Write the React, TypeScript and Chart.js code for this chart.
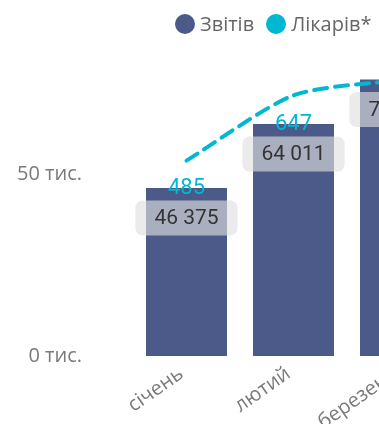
import React, { useEffect, useRef } from "react";
import { Chart, registerables } from "chart.js";

Chart.register(...registerables);

const categories = ["січень", "лютий", "березень"];
const reports = [46375, 64011, 76250];
const doctors = [485, 647, 686];
const yTicks = [0, 50000];
const seriesNames = ["Звітів", "Лікарів*"];

const BAR_COLOR = "#4B5A88";
const LINE_COLOR = "#00B8D2";
const AXIS_COLOR = "#7a7a7a";

const fmt = (v: number) => String(v).replace(/\B(?=(\d{3})+(?!\d))/g, " ");

const labelPlugin = {
  id: "valueLabels",
  afterDatasetsDraw(chart: any) {
    const ctx = chart.ctx;
    const meta = chart.getDatasetMeta(1);
    ctx.save();
    meta.data.forEach((bar: any, i: number) => {
      const x = bar.x;
      const y = bar.y;
      ctx.font = "21px Roboto";
      const text = fmt(reports[i]);
      const tw = ctx.measureText(text).width;
      const w = tw + 38;
      const h = 35;
      const cy = y + 30;
      ctx.fillStyle = "rgba(224,224,224,0.64)";
      ctx.beginPath();
      ctx.roundRect(x - w / 2, cy - h / 2, w, h, 7);
      ctx.fill();
      ctx.fillStyle = "#333333";
      ctx.textAlign = "center";
      ctx.textBaseline = "middle";
      ctx.fillText(text, x, cy + 1);
      ctx.font = "22px Roboto";
      ctx.fillStyle = LINE_COLOR;
      ctx.fillText(String(doctors[i]), x, y + 1);
    });
    ctx.restore();
  },
};

function ChartCanvas() {
  const ref = useRef<HTMLCanvasElement | null>(null);
  useEffect(() => {
    if (!ref.current) return;
    const chart = new Chart(ref.current, {
      type: "bar",
      data: {
        labels: categories,
        datasets: [
          {
            type: "line",
            label: seriesNames[1],
            data: doctors,
            yAxisID: "y1",
            borderColor: LINE_COLOR,
            borderWidth: 4,
            borderDash: [13, 8],
            borderCapStyle: "round",
            pointRadius: 0,
            tension: 0.25,
            fill: false,
            order: 0,
          } as any,
          {
            type: "bar",
            label: seriesNames[0],
            data: reports,
            yAxisID: "y",
            backgroundColor: BAR_COLOR,
            categoryPercentage: 1,
            barPercentage: 0.757,
            order: 1,
          },
        ],
      },
      options: {
        animation: false,
        responsive: true,
        maintainAspectRatio: false,
        layout: { padding: { top: 66, right: 16, left: 0, bottom: 0 } },
        plugins: { legend: { display: false }, tooltip: { enabled: false } },
        scales: {
          x: {
            grid: { display: false, drawTicks: false },
            border: { display: false },
            ticks: {
              color: AXIS_COLOR,
              font: { family: "Open Sans", size: 20 },
              minRotation: 35,
              maxRotation: 35,
              autoSkip: false,
              padding: 6,
              labelOffset: -5,
            },
            afterFit: (s: any) => {
              s.height = 68;
            },
          },
          y: {
            min: 0,
            max: 80000,
            grid: { display: false, drawTicks: false },
            border: { display: false },
            ticks: {
              color: AXIS_COLOR,
              font: { family: "Open Sans", size: 20 },
              padding: 51,
              callback: (v: any) => `${Number(v) / 1000} тис.`,
            },
            afterBuildTicks: (s: any) => {
              s.ticks = yTicks.map((v) => ({ value: v }));
            },
            afterFit: (s: any) => {
              s.width = 133;
            },
          },
          y1: {
            display: false,
            min: 0,
            max: 720,
            position: "right",
          },
        },
      } as any,
      plugins: [labelPlugin],
    });
    return () => chart.destroy();
  }, []);
  return <canvas ref={ref} />;
}

export default function App() {
  const legendItems = [
    { name: seriesNames[0], color: BAR_COLOR },
    { name: seriesNames[1], color: LINE_COLOR },
  ];
  return (
    <div
      style={{
        position: "absolute",
        left: 0,
        top: 0,
        width: 379,
        height: 424,
        overflow: "hidden",
        background: "#ffffff",
      }}
    >
      <div style={{ position: "absolute", left: 0, top: 0, width: 470, height: 424 }}>
        <ChartCanvas />
      </div>
      <div
        style={{
          position: "absolute",
          left: 175,
          top: 10,
          display: "flex",
          alignItems: "center",
          fontFamily: "Open Sans",
          fontSize: 20,
          color: "#666666",
          whiteSpace: "nowrap",
        }}
      >
        {legendItems.map((it, i) => (
          <div key={i} style={{ display: "flex", alignItems: "center", marginRight: i === 0 ? 12 : 0 }}>
            <span
              style={{
                display: "inline-block",
                width: 20,
                height: 20,
                borderRadius: 10,
                background: it.color,
                marginRight: 5,
              }}
            />
            <span>{it.name}</span>
          </div>
        ))}
      </div>
    </div>
  );
}
